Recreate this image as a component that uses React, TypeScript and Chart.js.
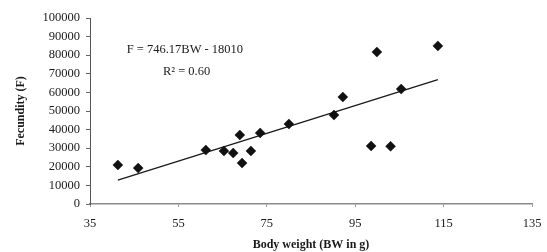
import React, { useEffect, useRef } from "react";
import { Chart, registerables } from "chart.js";

Chart.register(...registerables);

// Data
const bodyWeight = [41.3, 45.9, 61.2, 65.3, 67.4, 68.9, 69.4, 71.4, 73.5, 80.0, 90.2, 92.2, 98.6, 99.9, 103.0, 105.4, 113.7];
const fecundity = [21000, 19300, 29000, 28500, 27400, 37100, 22000, 28500, 38200, 43000, 47800, 57500, 31200, 81700, 31000, 61800, 85000];
const xTicks = [35, 55, 75, 95, 115, 135];
const yTicks = [0, 10000, 20000, 30000, 40000, 50000, 60000, 70000, 80000, 90000, 100000];
const trendSlope = 746.17;
const trendIntercept = -18010;
const equationText = "F = 746.17BW - 18010";
const r2Text = "R\u00B2 = 0.60";
const xTitle = "Body weight (BW in g)";
const yTitle = "Fecundity (F)";

const FONT = '"Liberation Serif", "Times New Roman", serif';

export default function App() {
  const ref = useRef<HTMLCanvasElement | null>(null);

  useEffect(() => {
    if (!ref.current) return;
    const xMin = Math.min(...bodyWeight);
    const xMax = Math.max(...bodyWeight);
    const trend = [
      { x: xMin, y: trendSlope * xMin + trendIntercept },
      { x: xMax, y: trendSlope * xMax + trendIntercept },
    ];
    const points = bodyWeight.map((x, i) => ({ x, y: fecundity[i] }));

    const textPlugin = {
      id: "eqText",
      afterDraw(chart: any) {
        const { ctx, scales } = chart;
        const xs = scales.x, ys = scales.y;
        ctx.save();
        ctx.fillStyle = "#1a1a1a";
        ctx.font = `12.5px ${FONT}`;
        ctx.textAlign = "left";
        ctx.textBaseline = "middle";
        ctx.fillText(equationText, xs.getPixelForValue(43.3), ys.getPixelForValue(82800));
        ctx.fillText(r2Text, xs.getPixelForValue(51.5), ys.getPixelForValue(71000));
        ctx.restore();
      },
    };

    const chart = new Chart(ref.current, {
      type: "scatter",
      data: {
        datasets: [
          {
            type: "line",
            data: trend,
            borderColor: "#1a1a1a",
            borderWidth: 1.3,
            pointRadius: 0,
            fill: false,
            order: 2,
          } as any,
          {
            data: points,
            pointStyle: "rectRot",
            pointRadius: 5,
            pointBackgroundColor: "#111",
            pointBorderColor: "#111",
            pointBorderWidth: 0.5,
            order: 1,
          },
        ],
      },
      options: {
        responsive: false,
        animation: false,
        layout: { padding: { left: 0, right: 15, top: 18, bottom: 0 } },
        plugins: { legend: { display: false }, tooltip: { enabled: false } },
        scales: {
          x: {
            type: "linear",
            min: 35,
            max: 135,
            afterBuildTicks: (s: any) => { s.ticks = xTicks.map((v) => ({ value: v })); },
            grid: { display: true, drawOnChartArea: false, tickLength: 3, color: "#999" },
            border: { display: true, color: "#8a8a8a", width: 1.5 },
            ticks: { color: "#1a1a1a", font: { family: FONT, size: 12.5 }, padding: 9, callback: (v: any) => String(v) },
            title: { display: true, text: xTitle, color: "#1a1a1a", font: { family: FONT, size: 12, weight: "bold" }, padding: { top: 6, bottom: 0 } },
            afterFit: (s: any) => { s.height = 48; s.paddingLeft = 0; s.paddingRight = 0; },
          },
          y: {
            type: "linear",
            min: 0,
            max: 100000,
            afterBuildTicks: (s: any) => { s.ticks = yTicks.map((v) => ({ value: v })); },
            grid: { display: true, drawOnChartArea: false, tickLength: 4, color: "#666" },
            border: { display: true, color: "#555", width: 1 },
            ticks: { color: "#1a1a1a", font: { family: FONT, size: 12.5 }, padding: 6, callback: (v: any) => String(v) },
            title: { display: true, text: yTitle, color: "#1a1a1a", font: { family: FONT, size: 12, weight: "bold" }, padding: { top: 14, bottom: 0 } },
            afterFit: (s: any) => { s.width = 90; s.paddingTop = 0; s.paddingBottom = 0; },
          },
        },
      },
      plugins: [textPlugin],
    });
    return () => chart.destroy();
  }, []);

  return (
    <div style={{ position: "fixed", left: 0, top: 0, width: 547, height: 252, background: "#fff" }}>
      <canvas ref={ref} width={547} height={252} style={{ display: "block" }} />
    </div>
  );
}
